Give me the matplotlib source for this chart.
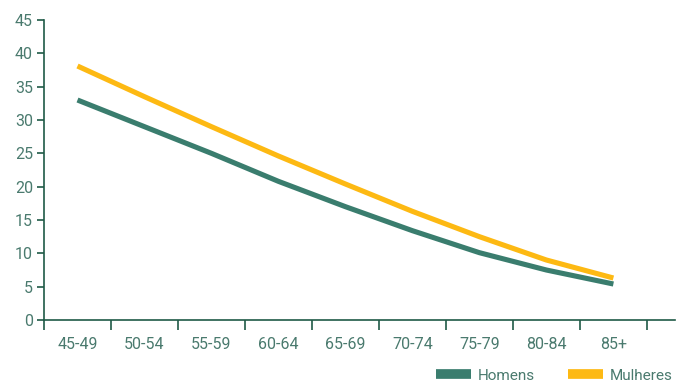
import matplotlib.pyplot as plt
from matplotlib.lines import Line2D

# Age groups and values per sex
age_groups = ['45-49', '50-54', '55-59', '60-64', '65-69', '70-74', '75-79', '80-84', '85+']
homens = [33.0, 29.0, 25.0, 20.8, 17.0, 13.4, 10.1, 7.5, 5.4]
mulheres = [38.1, 33.5, 29.0, 24.6, 20.4, 16.3, 12.5, 9.0, 6.3]

green = '#3a7d6e'
yellow = '#fdb913'
axis_col = '#1f5a47'
text_col = '#4a7a6e'

plt.rcParams['font.family'] = ['Roboto', 'DejaVu Sans']

fig = plt.figure(figsize=(6.78, 3.85), dpi=100)
ax = fig.add_axes([0.0649, 0.1688, 0.9307, 0.7792])

x = list(range(len(age_groups)))
ax.plot(x, homens, color=green, lw=3.7, solid_capstyle='butt')
ax.plot(x, mulheres, color=yellow, lw=3.7, solid_capstyle='butt')

ax.set_ylim(0, 45)
ax.set_xlim(-0.5, 8.92)
ax.set_yticks(range(0, 46, 5))

# boundary ticks on x, labels sit in the middle of each group
ax.set_xticks([i - 0.5 for i in range(len(age_groups) + 1)])
ax.set_xticklabels([])
ax.set_xticks(x, minor=True)
ax.set_xticklabels(age_groups, minor=True)
ax.tick_params(axis='x', which='major', length=7, width=1.2, color=axis_col, direction='out')
ax.tick_params(axis='x', which='minor', length=0, pad=12, labelsize=11.5, labelcolor=text_col)
ax.tick_params(axis='y', length=5, width=1.2, color=axis_col, pad=3, labelsize=11.5, labelcolor=text_col)

for s in ['top', 'right']:
    ax.spines[s].set_visible(False)
for s in ['left', 'bottom']:
    ax.spines[s].set_color(axis_col)
    ax.spines[s].set_linewidth(1.2)

handles = [Line2D([], [], color=green, lw=7, solid_capstyle='butt'),
           Line2D([], [], color=yellow, lw=7, solid_capstyle='butt')]
fig.legend(handles, ['Homens', 'Mulheres'], loc='lower right', bbox_to_anchor=(1.012, -0.03),
           ncol=2, frameon=False, fontsize=11, labelcolor=text_col,
           handlelength=2.3, handletextpad=0.4, columnspacing=2.2)

fig.savefig('out.png', dpi=100)
